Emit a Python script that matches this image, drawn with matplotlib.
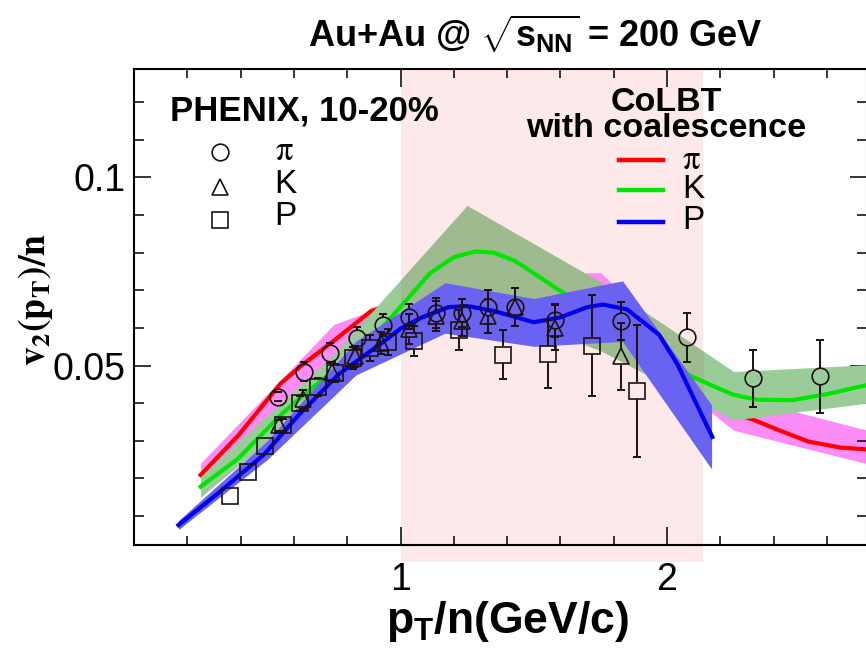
import matplotlib
matplotlib.use("Agg")
import matplotlib.pyplot as plt
import matplotlib.transforms as mtransforms
from matplotlib.patches import Rectangle
import numpy as np

plt.rcParams["font.family"] = ["Liberation Sans", "DejaVu Sans"]
plt.rcParams["mathtext.fontset"] = "custom"
plt.rcParams["mathtext.rm"] = "Liberation Sans:bold"
plt.rcParams["mathtext.it"] = "Liberation Sans:bold"
plt.rcParams["mathtext.bf"] = "Liberation Sans:bold"

# PHENIX Au+Au 10-20%, v2/n vs pT/n
pi_x = [0.540, 0.637, 0.737, 0.835, 0.934, 1.032, 1.132, 1.229, 1.328, 1.429, 1.579, 1.827, 2.075, 2.322, 2.572]
pi_y = [0.0417, 0.0484, 0.0534, 0.0573, 0.0608, 0.0630, 0.0640, 0.0640, 0.0655, 0.0655, 0.0620, 0.0618, 0.0575, 0.0466, 0.0471]
pi_err = [0.0012, 0.0025, 0.0026, 0.0030, 0.0030, 0.0034, 0.0040, 0.0038, 0.0045, 0.0050, 0.0044, 0.0050, 0.0065, 0.0076, 0.0097]

k_x = [0.543, 0.636, 0.743, 0.831, 0.927, 1.031, 1.132, 1.229, 1.328, 1.429, 1.579, 1.827]
k_y = [0.0341, 0.0410, 0.0484, 0.0524, 0.0560, 0.0597, 0.0631, 0.0618, 0.0631, 0.0655, 0.0600, 0.0524]
k_err = [0.0015, 0.0025, 0.0025, 0.0027, 0.0030, 0.0040, 0.0040, 0.0040, 0.0045, 0.0050, 0.0060, 0.0090]

p_x = [0.361, 0.426, 0.492, 0.559, 0.624, 0.689, 0.756, 0.822, 0.887, 0.952, 1.052, 1.219, 1.386, 1.552, 1.718, 1.887]
p_y = [0.0152, 0.0217, 0.0286, 0.0342, 0.0400, 0.0443, 0.0480, 0.0520, 0.0546, 0.0562, 0.0566, 0.0595, 0.0529, 0.0531, 0.0553, 0.0433]
p_err = [0.0, 0.0, 0.0, 0.0015, 0.0020, 0.0024, 0.0025, 0.0030, 0.0035, 0.0035, 0.0040, 0.0053, 0.0066, 0.0091, 0.0134, 0.0176]

# CoLBT with coalescence: central curves
pi_line_x = [0.25, 0.39, 0.55, 0.62, 0.75, 0.89, 1.00, 1.25, 1.50, 1.75, 2.00, 2.17, 2.25, 2.32, 2.42, 2.53, 2.65, 2.75]
pi_line_y = [0.0209, 0.0313, 0.0452, 0.0495, 0.0566, 0.0645, 0.0672, 0.0690, 0.0685, 0.0668, 0.0525, 0.0400, 0.0372, 0.0357, 0.0328, 0.0298, 0.0282, 0.0277]

k_line_x = [0.25, 0.39, 0.55, 0.62, 0.75, 0.84, 0.93, 1.03, 1.11, 1.20, 1.28, 1.35, 1.43, 1.60, 1.85, 2.08, 2.20, 2.25, 2.34, 2.47, 2.60, 2.75]
k_line_y = [0.0178, 0.0252, 0.0368, 0.0412, 0.0487, 0.0540, 0.0600, 0.0680, 0.0745, 0.0788, 0.0803, 0.0800, 0.0778, 0.0698, 0.0585, 0.0475, 0.0437, 0.0422, 0.0409, 0.0408, 0.0424, 0.0448]

p_line_x = [0.167, 0.32, 0.49, 0.62, 0.77, 0.93, 1.00, 1.08, 1.18, 1.25, 1.35, 1.50, 1.60, 1.70, 1.76, 1.85, 1.97, 2.04, 2.10, 2.17]
p_line_y = [0.0076, 0.0163, 0.0265, 0.0370, 0.0478, 0.0560, 0.0598, 0.0628, 0.0655, 0.0658, 0.0645, 0.0615, 0.0628, 0.0655, 0.0662, 0.0649, 0.0582, 0.0502, 0.0413, 0.0310]

# CoLBT uncertainty bands
pi_band_x = [0.25, 0.75, 1.25, 1.75, 2.25, 2.75]
pi_band_lo = [0.0178, 0.0520, 0.0630, 0.0610, 0.0328, 0.0239]
pi_band_hi = [0.0240, 0.0609, 0.0740, 0.0747, 0.0420, 0.0328]

k_band_x = [0.25, 0.75, 1.25, 1.75, 2.25, 2.75]
k_band_lo = [0.0150, 0.0445, 0.0670, 0.0540, 0.0355, 0.0400]
k_band_hi = [0.0205, 0.0530, 0.0925, 0.0722, 0.0484, 0.0502]

p_band_x = [0.167, 0.5, 0.833, 1.167, 1.5, 1.833, 2.167]
p_band_lo = [0.0064, 0.0250, 0.0475, 0.0586, 0.0551, 0.0564, 0.0225]
p_band_hi = [0.0088, 0.0300, 0.0565, 0.0720, 0.0678, 0.0725, 0.0395]

SHADE_LO, SHADE_HI = 1.0, 2.135
XLIM = (0.0, 2.75)
YLIM = (0.0023, 0.1288)

INK = "#1c1212"
MS = 12.0

fig = plt.figure(figsize=(8.66, 6.53), dpi=100)
ax = fig.add_axes([0.1547, 0.1654, 0.8464, 0.7289])
ax.set_xlim(*XLIM)
ax.set_ylim(*YLIM)

trans = mtransforms.blended_transform_factory(ax.transData, ax.transAxes)
ax.add_patch(Rectangle((SHADE_LO, -0.036), SHADE_HI - SHADE_LO, 1.036, transform=trans,
                       facecolor="#fde9e9", edgecolor="none", zorder=0, clip_on=False))

# model bands and curves, pion -> kaon -> proton
ax.fill_between(pi_band_x, pi_band_lo, pi_band_hi, color="#fb8cf6", lw=0, zorder=1)
ax.plot(pi_line_x, pi_line_y, color="#ff0000", lw=3, zorder=2)

ax.fill_between(k_band_x, k_band_lo, k_band_hi, color="#99cc99", lw=0, zorder=3)
shaded = ax.fill_between(k_band_x, k_band_lo, k_band_hi, color="#9dbb8f", lw=0, zorder=3.1)
shaded.set_clip_path(Rectangle((SHADE_LO, 0), SHADE_HI - SHADE_LO, 1, transform=trans))
ax.plot(k_line_x, k_line_y, color="#00e600", lw=3, zorder=4)

ax.fill_between(p_band_x, p_band_lo, p_band_hi, color="#6a62f0", lw=0, zorder=5)
ax.plot(p_line_x, p_line_y, color="#0000ee", lw=3, zorder=6)


def data_points(x, y, err, marker):
    x, y, err = np.asarray(x), np.asarray(y), np.asarray(err)
    px_per_unit = ax.get_window_extent().height / (YLIM[1] - YLIM[0])
    half = MS / 2 * fig.dpi / 72 / px_per_unit
    out = err > half
    ax.vlines(x[out], y[out] + half, y[out] + err[out], color=INK, lw=1.4, zorder=8)
    ax.vlines(x[out], y[out] - err[out], y[out] - half, color=INK, lw=1.4, zorder=8)
    has = err > 0
    for sign in (1, -1):
        ax.plot(x[has], y[has] + sign * err[has], ls="none", marker="_", ms=5.5,
                mew=1.4, color=INK, zorder=8)
    ax.plot(x, y, ls="none", marker=marker, ms=MS, mfc="none", mec=INK, mew=1.2, zorder=9)


data_points(pi_x, pi_y, pi_err, "o")
data_points(k_x, k_y, k_err, "^")
data_points(p_x, p_y, p_err, "s")

# axes frame and ticks
for s in ax.spines.values():
    s.set_linewidth(1.5)
ax.set_xticks([1, 2])
ax.set_xticklabels(["1", "2"])
ax.set_xticks(np.arange(0.2, 2.75, 0.2), minor=True)
ax.set_yticks([0.05, 0.1])
ax.set_yticklabels(["0.05", "0.1"])
ax.set_yticks(np.arange(0.01, 0.129, 0.01), minor=True)
ax.tick_params(which="both", direction="in", top=True, right=True, width=1.1, labelsize=27)
ax.tick_params(axis="x", which="major", length=13, pad=12)
ax.tick_params(axis="x", which="minor", length=6.5)
ax.tick_params(axis="y", which="major", length=12, pad=6)
ax.tick_params(axis="y", which="minor", length=7)

ax.set_xlabel(r"$\mathbf{p_{T}/n(GeV/c)}$", fontsize=32)
ax.xaxis.set_label_coords(0.510, -0.160)
ax.xaxis.label.set_va("center")
ax.set_ylabel(r"$\mathbf{v_{2}(p_{T})/n}$", fontsize=27, math_fontfamily="stix")
ax.yaxis.set_label_coords(-0.135, 0.515)
ax.yaxis.label.set_va("center")

fig.text(0.618, 0.928, r"Au+Au @ $\sqrt{s_{NN}}$ = 200 GeV", ha="center", va="baseline",
         fontsize=26, fontweight="bold")

PI = r"$\mathrm{\pi}$"


def entry_label(x, y, lab):
    if lab == PI:
        ax.text(x, y, lab, transform=ax.transAxes, fontsize=25, va="baseline",
                ha="left", math_fontfamily="stix")
    else:
        ax.text(x, y, lab, transform=ax.transAxes, fontsize=24, va="baseline", ha="left")


# PHENIX legend
ax.text(0.049, 0.891, "PHENIX, 10-20%", transform=ax.transAxes, fontsize=25,
        fontweight="bold", va="baseline", ha="left")
for yy, mk, lab, ly in [(0.826, "o", PI, 0.809), (0.752, "^", "K", 0.740),
                        (0.683, "s", "P", 0.672)]:
    ax.plot([0.117], [yy], transform=ax.transAxes, ls="none", marker=mk, ms=MS,
            mfc="none", mec=INK, mew=1.2, clip_on=False)
    entry_label(0.192, ly, lab)

# CoLBT legend
ax.text(0.726, 0.857, "CoLBT\nwith coalescence", transform=ax.transAxes, fontsize=24.5,
        fontweight="bold", ha="center", va="baseline", multialignment="center",
        linespacing=0.78)
for yy, col, lab, ly in [(0.809, "#ff0000", PI, 0.789), (0.746, "#00e600", "K", 0.729),
                         (0.679, "#0000ee", "P", 0.664)]:
    ax.plot([0.662, 0.722], [yy, yy], transform=ax.transAxes, color=col, lw=3.2)
    entry_label(0.748, ly, lab)

fig.savefig("out.png", dpi=100)
